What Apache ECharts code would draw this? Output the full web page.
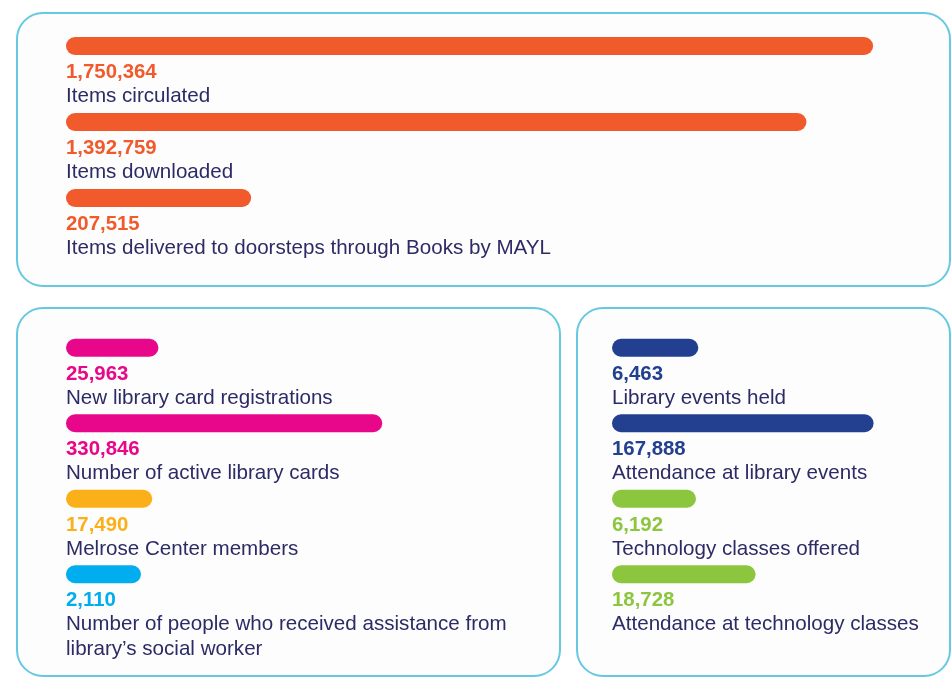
<!DOCTYPE html>
<html>
<head>
<meta charset="utf-8">
<script src="https://cdn.jsdelivr.net/npm/echarts@6/dist/echarts.min.js"></script>
<style>
  html, body { margin: 0; padding: 0; background: #ffffff; }
  #main { width: 952px; height: 677px; }
</style>
</head>
<body>
<div id="main"></div>
<script>
// top panel: collections
const topNames = ['Items circulated', 'Items downloaded', 'Items delivered to doorsteps through Books by MAYL'];
const topValues = [1750364, 1392759, 207515];

// bottom left: cards and members
const leftNames = [
  'New library card registrations',
  'Number of active library cards',
  'Melrose Center members',
  'Number of people who received assistance from\nlibrary\u2019s social worker'
];
const leftValues = [25963, 330846, 17490, 2110];

// bottom right: events and classes
const rightNames = ['Library events held', 'Attendance at library events', 'Technology classes offered', 'Attendance at technology classes'];
const rightValues = [6463, 167888, 6192, 18728];

const topColors = ['#f15a2b', '#f15a2b', '#f15a2b'];
const leftColors = ['#e8078a', '#e8078a', '#fbb019', '#00aeef'];
const rightColors = ['#22408f', '#22408f', '#8cc63f', '#8cc63f'];

const FONT = '"Liberation Sans", Arial, Helvetica, sans-serif';
const TEXT = '#2c2b66';
const BORDER = '#66c9e0';

function items(values, colors) {
  return values.map(function (v, i) {
    return {
      value: v,
      itemStyle: { color: colors[i] },
      label: { rich: { v: { color: colors[i] } } }
    };
  });
}

function barSeries(idx, values, colors) {
  return {
    type: 'bar',
    xAxisIndex: idx,
    yAxisIndex: idx,
    barWidth: 18,
    clip: false,
    itemStyle: { borderRadius: 9 },
    data: items(values, colors),
    label: {
      show: true,
      position: [0, 24],
      align: 'left',
      verticalAlign: 'top',
      fontFamily: FONT,
      formatter: function (p) {
        return '{v|' + p.value.toLocaleString('en-US') + '}\n{n|' + p.name + '}';
      },
      rich: {
        v: { fontSize: 20.4, fontWeight: 'bold', lineHeight: 23, fontFamily: FONT },
        n: { fontSize: 20.6, color: TEXT, lineHeight: 25, fontFamily: FONT }
      }
    }
  };
}

function panel(x, y, w, h) {
  return {
    type: 'rect',
    z: -10,
    shape: { x: x, y: y, width: w, height: h, r: 26 },
    style: { fill: '#fdfdfd', stroke: BORDER, lineWidth: 2 }
  };
}

const chart = echarts.init(document.getElementById('main'));
chart.setOption({
  backgroundColor: '#ffffff',
  animation: false,
  graphic: [
    panel(17, 13, 933, 273),
    panel(17, 308, 543, 368),
    panel(577, 308, 373, 368)
  ],
  grid: [
    { left: 66, top: 8, width: 846, height: 228 },
    { left: 66, top: 310, width: 367, height: 302 },
    { left: 612, top: 310, width: 271, height: 302 }
  ],
  xAxis: [
    { gridIndex: 0, type: 'log', min: 110000, max: 2000000, startValue: 110000, show: false },
    { gridIndex: 1, type: 'value', min: -100000, max: 400000, startValue: -100000, show: false },
    { gridIndex: 2, type: 'log', min: 1300, max: 200000, startValue: 1300, show: false }
  ],
  yAxis: [
    { gridIndex: 0, type: 'category', inverse: true, data: topNames, show: false },
    { gridIndex: 1, type: 'category', inverse: true, data: leftNames, show: false },
    { gridIndex: 2, type: 'category', inverse: true, data: rightNames, show: false }
  ],
  series: [
    barSeries(0, topValues, topColors),
    barSeries(1, leftValues, leftColors),
    barSeries(2, rightValues, rightColors)
  ]
});
</script>
</body>
</html>
